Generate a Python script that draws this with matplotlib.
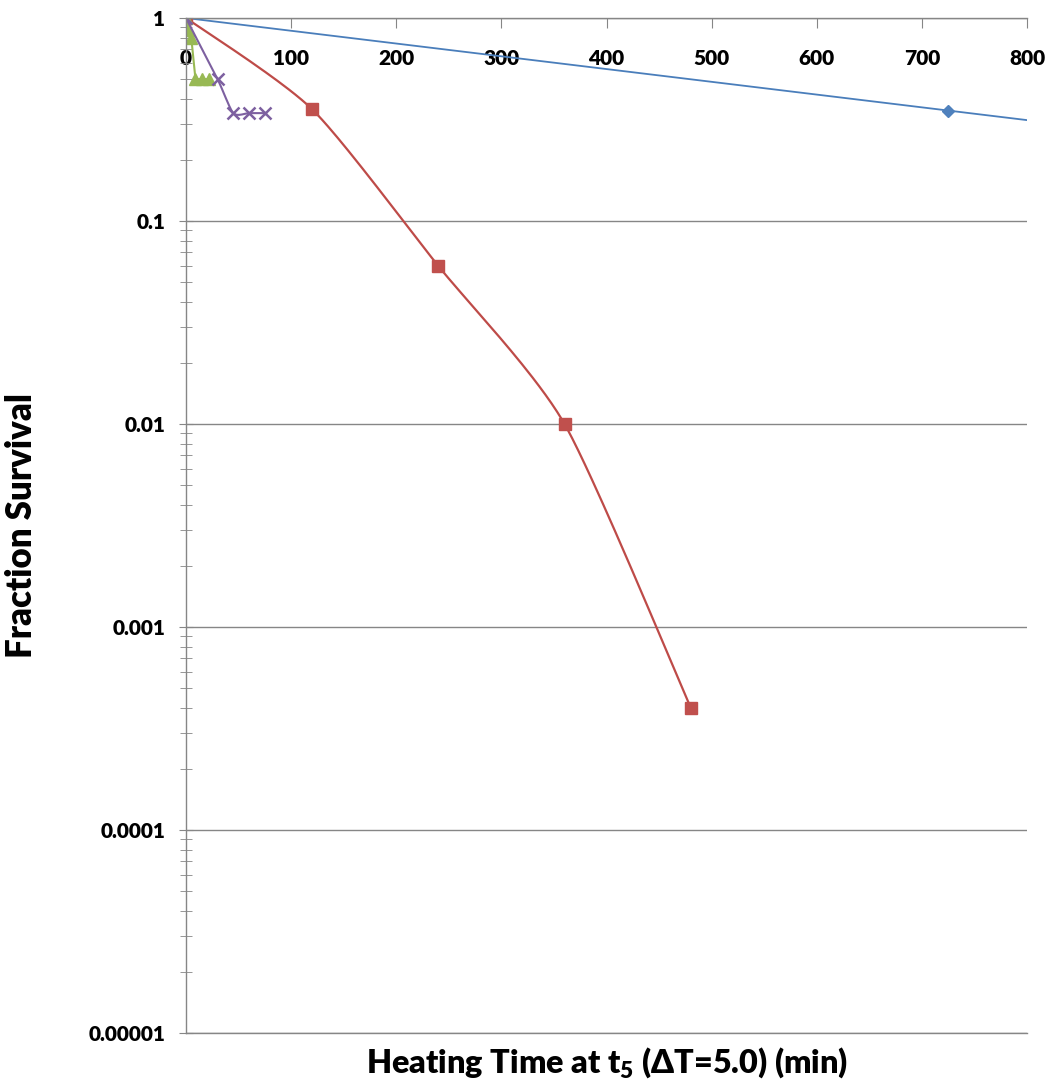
import numpy as np
import matplotlib.pyplot as plt
from matplotlib.ticker import LogLocator, NullFormatter

plt.rcParams['font.family'] = ['Lato', 'DejaVu Sans']
plt.rcParams['font.weight'] = 'heavy'
plt.rcParams['axes.labelweight'] = 'heavy'
plt.rcParams['mathtext.fontset'] = 'custom'
plt.rcParams['mathtext.rm'] = 'Lato:heavy'
plt.rcParams['mathtext.bf'] = 'Lato:heavy'

# data
blue_x = [0, 725]
blue_y = [1.0, 0.35]
red_x = [0, 120, 240, 360, 480]
red_y = [1.0, 0.355, 0.06, 0.01, 0.0004]
green_x = [0, 2, 5, 9, 15, 22]
green_y = [1.0, 0.87, 0.8, 0.5, 0.5, 0.5]
purple_x = [0, 30, 45, 60, 75]
purple_y = [1.0, 0.5, 0.34, 0.34, 0.34]

x_ticks = [0, 100, 200, 300, 400, 500, 600, 700, 800]
y_ticks = [1e-5, 1e-4, 1e-3, 1e-2, 1e-1, 1]
y_ticklabels = ['0.00001', '0.0001', '0.001', '0.01', '0.1', '1']

gray = '#868686'


def smooth(xs, ys, n=40, tension=0.7):
    # excel-like smoothed line (cardinal spline) in log space
    p = np.column_stack([xs, np.log10(ys)])
    p = np.vstack([p[0], p, p[-1]])
    segs = []
    t = np.linspace(0, 1, n)[:, None]
    h00 = 2 * t ** 3 - 3 * t ** 2 + 1
    h10 = t ** 3 - 2 * t ** 2 + t
    h01 = -2 * t ** 3 + 3 * t ** 2
    h11 = t ** 3 - t ** 2
    for i in range(1, len(p) - 2):
        p0, p1, p2, p3 = p[i - 1], p[i], p[i + 1], p[i + 2]
        m1 = tension * 0.5 * (p2 - p0)
        m2 = tension * 0.5 * (p3 - p1)
        segs.append(h00 * p1 + h10 * m1 + h01 * p2 + h11 * m2)
    s = np.vstack(segs)
    return s[:, 0], 10 ** s[:, 1]


fig = plt.figure(figsize=(10.45, 10.85), dpi=100)
ax = fig.add_axes([0.178, 0.0479, 0.805, 0.9355])
ax.set_yscale('log')
ax.set_xlim(0, 800)
ax.set_ylim(1e-5, 1)

ax.yaxis.grid(True, which='major', color=gray, lw=1)
ax.set_axisbelow(True)

# blue: exponential trend through its points
k = np.polyfit(blue_x, np.log10(blue_y), 1)
tx = np.array([0, 800])
ax.plot(tx, 10 ** np.polyval(k, tx), color='#4A7EBB', lw=1.3)
ax.plot(blue_x, blue_y, 'D', color='#4F81BD', ms=6)

sx, sy = smooth(red_x, red_y)
ax.plot(sx, sy, color='#BE4B48', lw=1.6)
ax.plot(red_x, red_y, 's', color='#C0504D', ms=8)

ax.plot(green_x, green_y, '-^', color='#98B954', lw=1.5, ms=8)

sx, sy = smooth(purple_x, purple_y)
ax.plot(sx, sy, color='#7D60A0', lw=1.5)
ax.plot(purple_x, purple_y, 'x', color='#7D60A0', ms=8, mew=1.8)

ax.spines['right'].set_visible(False)
for s in ['top', 'left', 'bottom']:
    ax.spines[s].set_color(gray)
    ax.spines[s].set_linewidth(1)

ax.xaxis.tick_top()
ax.xaxis.set_label_position('bottom')
ax.set_xticks(x_ticks)
ax.tick_params(axis='x', direction='in', length=7, color=gray, pad=-36, labelsize=15)

ax.set_yticks(y_ticks, y_ticklabels)
ax.yaxis.set_minor_locator(LogLocator(base=10, subs=np.arange(2, 10)))
ax.yaxis.set_minor_formatter(NullFormatter())
ax.tick_params(axis='y', which='major', direction='inout', length=10, color=gray, pad=10, labelsize=15)
ax.tick_params(axis='y', which='minor', direction='inout', length=8, color=gray)

ax.set_xlabel(r'Heating Time at t$_{5}$ (ΔT=5.0) (min)', fontsize=23.3, fontweight='heavy', labelpad=9)
ax.set_ylabel('Fraction Survival', fontsize=25, fontweight='heavy')
ax.yaxis.set_label_coords(-0.176, 0.5)

fig.savefig('out.png', dpi=100, facecolor='white')
